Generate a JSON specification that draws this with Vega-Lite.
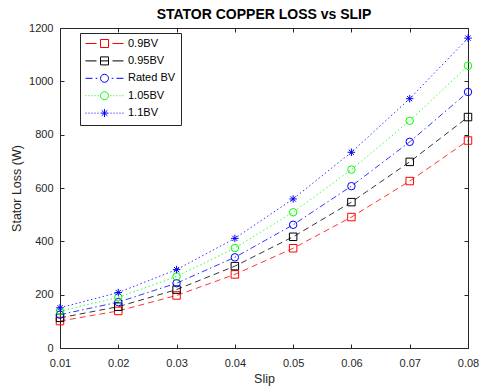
{
  "$schema": "https://vega.github.io/schema/vega-lite/v6.json",
  "width": 408,
  "height": 320,
  "autosize": {"type": "none"},
  "padding": {"left": 60, "top": 28, "right": 11, "bottom": 39},
  "background": "white",
  "title": {"text": "STATOR COPPER LOSS vs SLIP", "fontSize": 14, "fontWeight": "bold", "font": "Liberation Sans", "color": "#000000", "offset": 0},
  "config": {
    "view": {"stroke": "#262626", "strokeWidth": 1},
    "axis": {"grid": false, "domain": false, "labelFont": "Liberation Sans", "titleFont": "Liberation Sans", "labelColor": "#262626", "titleColor": "#262626", "tickColor": "#262626", "labelFontSize": 11, "titleFontSize": 12.5, "titleFontWeight": "normal", "labelFlush": false}
  },
  "data": {"values": [
    {"slip": 0.01, "series": "0.9BV", "loss": 101},
    {"slip": 0.02, "series": "0.9BV", "loss": 139},
    {"slip": 0.03, "series": "0.9BV", "loss": 197},
    {"slip": 0.04, "series": "0.9BV", "loss": 276},
    {"slip": 0.05, "series": "0.9BV", "loss": 374},
    {"slip": 0.06, "series": "0.9BV", "loss": 491},
    {"slip": 0.07, "series": "0.9BV", "loss": 626},
    {"slip": 0.08, "series": "0.9BV", "loss": 778},
    {"slip": 0.01, "series": "0.95BV", "loss": 113},
    {"slip": 0.02, "series": "0.95BV", "loss": 155},
    {"slip": 0.03, "series": "0.95BV", "loss": 219},
    {"slip": 0.04, "series": "0.95BV", "loss": 307},
    {"slip": 0.05, "series": "0.95BV", "loss": 417},
    {"slip": 0.06, "series": "0.95BV", "loss": 547},
    {"slip": 0.07, "series": "0.95BV", "loss": 698},
    {"slip": 0.08, "series": "0.95BV", "loss": 866},
    {"slip": 0.01, "series": "Rated BV", "loss": 125},
    {"slip": 0.02, "series": "Rated BV", "loss": 172},
    {"slip": 0.03, "series": "Rated BV", "loss": 243},
    {"slip": 0.04, "series": "Rated BV", "loss": 340},
    {"slip": 0.05, "series": "Rated BV", "loss": 462},
    {"slip": 0.06, "series": "Rated BV", "loss": 607},
    {"slip": 0.07, "series": "Rated BV", "loss": 773},
    {"slip": 0.08, "series": "Rated BV", "loss": 960},
    {"slip": 0.01, "series": "1.05BV", "loss": 138},
    {"slip": 0.02, "series": "1.05BV", "loss": 190},
    {"slip": 0.03, "series": "1.05BV", "loss": 268},
    {"slip": 0.04, "series": "1.05BV", "loss": 375},
    {"slip": 0.05, "series": "1.05BV", "loss": 509},
    {"slip": 0.06, "series": "1.05BV", "loss": 669},
    {"slip": 0.07, "series": "1.05BV", "loss": 852},
    {"slip": 0.08, "series": "1.05BV", "loss": 1058},
    {"slip": 0.01, "series": "1.1BV", "loss": 151},
    {"slip": 0.02, "series": "1.1BV", "loss": 208},
    {"slip": 0.03, "series": "1.1BV", "loss": 294},
    {"slip": 0.04, "series": "1.1BV", "loss": 411},
    {"slip": 0.05, "series": "1.1BV", "loss": 559},
    {"slip": 0.06, "series": "1.1BV", "loss": 734},
    {"slip": 0.07, "series": "1.1BV", "loss": 935},
    {"slip": 0.08, "series": "1.1BV", "loss": 1162}
  ]},
  "resolve": {
    "axis": {"x": "independent", "y": "independent"},
    "scale": {"color": "independent", "shape": "independent", "strokeDash": "independent"}
  },
  "layer": [
    {
      "mark": {"type": "line", "strokeWidth": 0.8, "clip": true},
      "encoding": {
        "x": {"field": "slip", "type": "quantitative", "scale": {"domain": [0.01, 0.08], "nice": false, "zero": false},
              "axis": {"orient": "bottom", "values": [0.01, 0.02, 0.03, 0.04, 0.05, 0.06, 0.07, 0.08], "format": ".2f", "ticks": false, "labelPadding": 9, "title": "Slip", "titlePadding": 4}},
        "y": {"field": "loss", "type": "quantitative", "scale": {"domain": [0, 1200], "nice": false, "zero": true},
              "axis": {"orient": "left", "values": [0, 200, 400, 600, 800, 1000, 1200], "format": "d", "ticks": false, "labelPadding": 7, "title": "Stator Loss (W)", "titlePadding": 5}},
        "color": {"field": "series", "type": "nominal", "legend": null,
                  "scale": {"domain": ["0.9BV", "0.95BV", "Rated BV", "1.05BV", "1.1BV"], "range": ["#ff0000", "#000000", "#0000ff", "#00ff00", "#0000ff"]}},
        "strokeDash": {"field": "series", "type": "nominal", "legend": null,
                  "scale": {"domain": ["0.9BV", "0.95BV", "Rated BV", "1.05BV", "1.1BV"], "range": [[6, 4], [6, 4], [6, 3, 1.5, 3], [1.5, 2.5], [1.5, 2.5]]}}
      }
    },
    {
      "mark": {"type": "point", "filled": false, "size": 56, "strokeWidth": 1, "opacity": 1},
      "encoding": {
        "x": {"field": "slip", "type": "quantitative", "axis": {"orient": "bottom", "values": [0.01, 0.02, 0.03, 0.04, 0.05, 0.06, 0.07, 0.08], "labels": false, "tickSize": 4, "offset": -4, "title": null}},
        "y": {"field": "loss", "type": "quantitative", "axis": {"orient": "left", "values": [0, 200, 400, 600, 800, 1000, 1200], "labels": false, "tickSize": 4, "offset": -4, "title": null}},
        "color": {"field": "series", "type": "nominal", "legend": null,
                  "scale": {"domain": ["0.9BV", "0.95BV", "Rated BV", "1.05BV", "1.1BV"], "range": ["#ff0000", "#000000", "#0000ff", "#00ff00", "#0000ff"]}},
        "shape": {"field": "series", "type": "nominal", "legend": null,
                  "scale": {"domain": ["0.9BV", "0.95BV", "Rated BV", "1.05BV", "1.1BV"], "range": ["square", "square", "circle", "circle", "M-1,0L1,0M0,-1L0,1M-0.7,-0.7L0.7,0.7M-0.7,0.7L0.7,-0.7"]}}
      }
    },
    {
      "transform": [{"filter": "datum.slip < 0"}],
      "mark": {"type": "point", "filled": false},
      "encoding": {
        "x": {"field": "slip", "type": "quantitative", "axis": {"orient": "top", "values": [0.01, 0.02, 0.03, 0.04, 0.05, 0.06, 0.07, 0.08], "labels": false, "tickSize": 4, "offset": -4, "title": null}},
        "y": {"field": "loss", "type": "quantitative", "axis": {"orient": "right", "values": [0, 200, 400, 600, 800, 1000, 1200], "labels": false, "tickSize": 4, "offset": -4, "title": null}},
        "color": {"field": "series", "type": "nominal",
                  "scale": {"domain": ["0.9BV", "0.95BV", "Rated BV", "1.05BV", "1.1BV"], "range": ["#ff0000", "#000000", "#0000ff", "#00ff00", "#0000ff"]},
                  "legend": {"title": null, "orient": "none", "legendX": 20, "legendY": 5, "padding": 5, "rowPadding": 4.4, "symbolSize": 64, "symbolStrokeWidth": 1, "symbolOffset": 14, "labelOffset": 18, "labelFont": "Liberation Sans", "labelFontSize": 11, "labelColor": "#000000", "strokeColor": "#262626", "fillColor": "white", "symbolOpacity": 1}},
        "shape": {"field": "series", "type": "nominal",
                  "scale": {"domain": ["0.9BV", "0.95BV", "Rated BV", "1.05BV", "1.1BV"], "range": [
                    "M-4.75,0L-2,0M-1,-1L1,-1L1,1L-1,1ZM2,0L4.75,0",
                    "M-4.75,0L-2,0M-1,-1L1,-1L1,1L-1,1ZM-1,0L1,0M2,0L4.75,0",
                    "M-4.75,0L-3,0M-2.2,0L-1.8,0M1,0A1,1 0 1,1 -1,0A1,1 0 1,1 1,0M1.8,0L2.2,0M3,0L4.75,0",
                    "M-4.75,0L-4.5,0M-4,0L-3.75,0M-3.25,0L-3,0M-2.5,0L-2.25,0M-1.75,0L-1.5,0M1,0A1,1 0 1,1 -1,0A1,1 0 1,1 1,0M1.5,0L1.75,0M2.25,0L2.5,0M3,0L3.25,0M3.75,0L4,0M4.5,0L4.75,0",
                    "M-4.75,0L-4.5,0M-4,0L-3.75,0M-3.25,0L-3,0M-2.5,0L-2.25,0M-1.75,0L-1.5,0M-1,0L1,0M0,-1L0,1M-0.7,-0.7L0.7,0.7M-0.7,0.7L0.7,-0.7M1.5,0L1.75,0M2.25,0L2.5,0M3,0L3.25,0M3.75,0L4,0M4.5,0L4.75,0"
                  ]},
                  "legend": {"title": null, "orient": "none", "legendX": 20, "legendY": 5}}
      }
    }
  ]
}
